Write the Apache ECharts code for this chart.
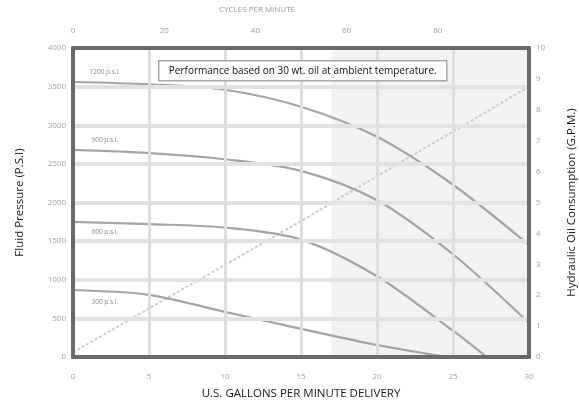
<!DOCTYPE html>
<html>
<head>
<meta charset="utf-8">
<script src="https://cdn.jsdelivr.net/npm/echarts@6/dist/echarts.min.js"></script>
<style>html,body{margin:0;padding:0;background:#fff}#c{width:579px;height:404px}</style>
</head>
<body>
<div id="c"></div>
<script>
// ---- data ----
const xTicks = [0, 5, 10, 15, 20, 25, 30];            // U.S. gallons per minute
const cycleTicks = [0, 20, 40, 60, 80];               // cycles per minute (top)
const psiTicks = [0, 500, 1000, 1500, 2000, 2500, 3000, 3500, 4000];
const gpmTicks = [0, 1, 2, 3, 4, 5, 6, 7, 8, 9, 10];

const curveNames = ['1200 p.s.i.', '900 p.s.i.', '600 p.s.i.', '300 p.s.i.'];
const curve1200 = [[0,3560],[5,3530],[10,3460],[15,3240],[20,2850],[25,2230],[30,1450]];
const curve900  = [[0,2680],[5,2640],[10,2560],[15,2410],[20,2030],[25,1330],[30,440]];
const curve600  = [[0,1750],[5,1720],[10,1675],[15,1520],[20,1045],[25,340],[27.2,0]];
const curve300  = [[0,867],[5,805],[10,585],[15,365],[20,155],[24.6,0]];
const consumption = [[0,0.15],[15,4.4],[30,8.75]];   // hydraulic oil consumption (G.P.M.)
const shadedRange = [17, 30];

const chart = echarts.init(document.getElementById('c'), null, {renderer: 'canvas'});
const FONT = 'Open Sans';
const frame = {show: true, onZero: false, lineStyle: {color: '#6a6a6a', width: 4}};
const tickLbl = {color: '#a0a0a0', fontSize: 8, fontFamily: FONT, formatter: v => String(v)};

const curves = [curve1200, curve900, curve600, curve300];
const lblOffsets = [[11, -10], [13, -10], [13, 10], [13, 12]];

const series = curves.map((d, i) => ({
  type: 'line', name: curveNames[i], xAxisIndex: 0, yAxisIndex: 0,
  data: d, smooth: 0.3, symbol: 'none', showSymbol: false,
  lineStyle: {color: '#a4a4a4', width: 2.2},
  markPoint: {silent: true, symbol: 'circle', symbolSize: 1, itemStyle: {color: 'rgba(0,0,0,0)'},
    data: [{coord: d[0], label: {show: true, formatter: curveNames[i], position: 'right', offset: lblOffsets[i], color: '#8a8a8a', fontSize: 6.5, fontFamily: FONT}}]},
  z: 3
}));
series.push({
  type: 'line', name: 'consumption', xAxisIndex: 0, yAxisIndex: 1,
  data: consumption, symbol: 'none', smooth: false,
  lineStyle: {color: '#cdcdcd', width: 2, type: [3, 2]}, z: 2
});
series.push({
  type: 'line', name: 'shade', xAxisIndex: 0, yAxisIndex: 0, data: [], symbol: 'none',
  markArea: {silent: true, itemStyle: {color: 'rgba(0,0,0,0.05)'}, data: [[{xAxis: shadedRange[0]}, {xAxis: shadedRange[1]}]]},
  z: 1
});

chart.setOption({
  animation: false,
  backgroundColor: '#fff',
  grid: {left: 73, right: 50, top: 48, bottom: 47, containLabel: false, outerBoundsMode: 'none'},
  xAxis: [
    {type: 'value', position: 'bottom', min: xTicks[0], max: xTicks[xTicks.length-1], interval: 5, z: 8,
     axisLine: frame, axisTick: {show: false},
     axisLabel: Object.assign({margin: 16}, tickLbl),
     splitLine: {show: true, lineStyle: {color: '#dedede', width: 3}},
     name: 'U.S. GALLONS PER MINUTE DELIVERY', nameLocation: 'middle', nameGap: 31,
     nameTextStyle: {color: '#1a1a1a', fontSize: 11.5, fontFamily: FONT}},
    {type: 'value', position: 'top', min: 0, max: 100, interval: 20, z: 8,
     axisLine: frame, axisTick: {show: false}, splitLine: {show: false},
     axisLabel: Object.assign({margin: 13, showMaxLabel: false}, tickLbl)}
  ],
  yAxis: [
    {type: 'value', position: 'left', min: psiTicks[0], max: psiTicks[psiTicks.length-1], interval: 500, z: 8,
     axisLine: frame, axisTick: {show: false},
     axisLabel: Object.assign({margin: 7}, tickLbl),
     splitLine: {show: true, lineStyle: {color: '#e2e2e2', width: 4}},
     name: 'Fluid Pressure (P.S.I)', nameLocation: 'middle', nameGap: 47, nameRotate: 90,
     nameTextStyle: {color: '#1a1a1a', fontSize: 11.5, fontFamily: FONT}},
    {type: 'value', position: 'right', min: gpmTicks[0], max: gpmTicks[gpmTicks.length-1], interval: 1, z: 8,
     axisLine: frame, axisTick: {show: false}, splitLine: {show: false},
     axisLabel: Object.assign({margin: 7}, tickLbl),
     name: 'Hydraulic Oil Consumption (G.P.M.)', nameLocation: 'middle', nameGap: 37, nameRotate: 90,
     nameTextStyle: {color: '#1a1a1a', fontSize: 11.5, fontFamily: FONT}}
  ],
  graphic: [
    {type: 'text', left: 219, top: 6, style: {text: 'CYCLES PER MINUTE', fill: '#9a9a9a', font: '8px "Open Sans"'}},
    {type: 'group', left: 158, top: 60, z: 100, children: [
      {type: 'rect', z: 100, shape: {x: 0, y: 0, width: 288, height: 20}, style: {fill: '#fff', stroke: '#a8a8a8', lineWidth: 1.5}},
      {type: 'text', z: 101, x: 144, y: 10, style: {text: 'Performance based on 30 wt. oil at ambient temperature.', fill: '#111', font: '10px "Open Sans"', textAlign: 'center', textVerticalAlign: 'middle'}}
    ]}
  ],
  series: series
});
</script>
</body>
</html>
